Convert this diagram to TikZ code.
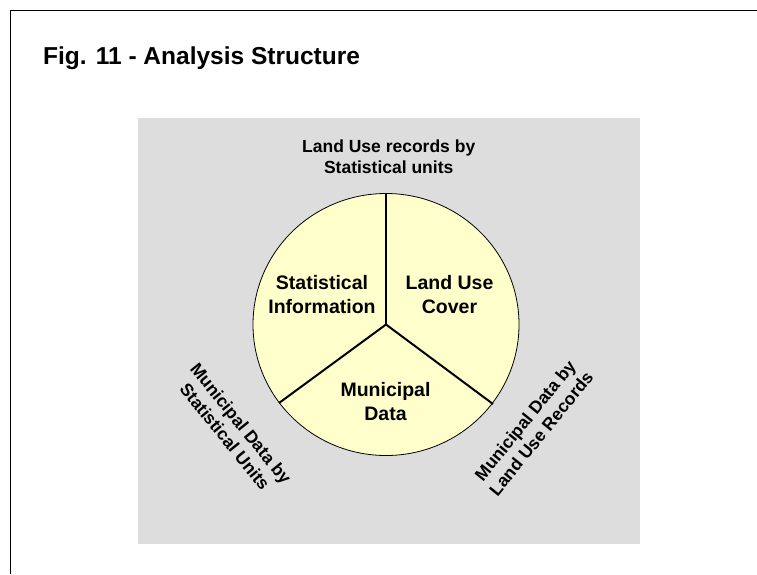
\documentclass[tikz,border=0pt]{standalone}
\usepackage{fontspec}
\setmainfont{Liberation Sans}

\definecolor{panelgray}{HTML}{DDDDDD}
\definecolor{sectoryellow}{HTML}{FFFFCC}

\tikzset{%
		sector/.style={font=\bfseries\fontsize{19.5}{24}\selectfont, align=center},
		relation/.style={font=\bfseries\fontsize{17.5}{20.6}\selectfont, align=center},
		spoke/.style={line width=2pt},
	}

\begin{document}
\begin{tikzpicture}[x=1pt, y=-1pt]
			\useasboundingbox (0,0) rectangle (757,574);

			% Frame and title
			\draw[line width=1pt] (10.5,574) -- (10.5,10.5) -- (757,10.5);
			\node[anchor=base west, inner sep=0pt, font=\bfseries\fontsize{24.5}{29}\selectfont] (title) at (43,64.5) {Fig. 11 - Analysis Structure};

			% Panel
			\fill[panelgray] (138,118) rectangle (640,544);

			% Pie
			\coordinate (centre) at (386,324.5);
			\draw[fill=sectoryellow, line width=0.8pt] (centre) ellipse [x radius=133pt, y radius=131pt];
			\coordinate (top) at (386,193.5);
			\coordinate (left) at (279,403);
			\coordinate (right) at (493,404);
			\foreach \p in {top, left, right}	{
				\draw[spoke] (centre) -- (\p);
			}

			% Sectors
			\node[sector] (stat) at (322,294.5) {Statistical\\Information};
			\node[sector] (land) at (449.5,294.5) {Land Use\\Cover};
			\node[sector] (muni) at (385.5,402) {Municipal\\Data};

			% Relations
			\node[relation] (landstat) at (388.7,157) {Land Use records by\\Statistical units};
			\node[relation, rotate=-51] (munistat) at (233,430) {Municipal Data by\\Statistical Units};
			\node[relation, rotate=51] (muniland) at (533,427) {Municipal Data by\\Land Use Records};
		\end{tikzpicture}
\end{document}
